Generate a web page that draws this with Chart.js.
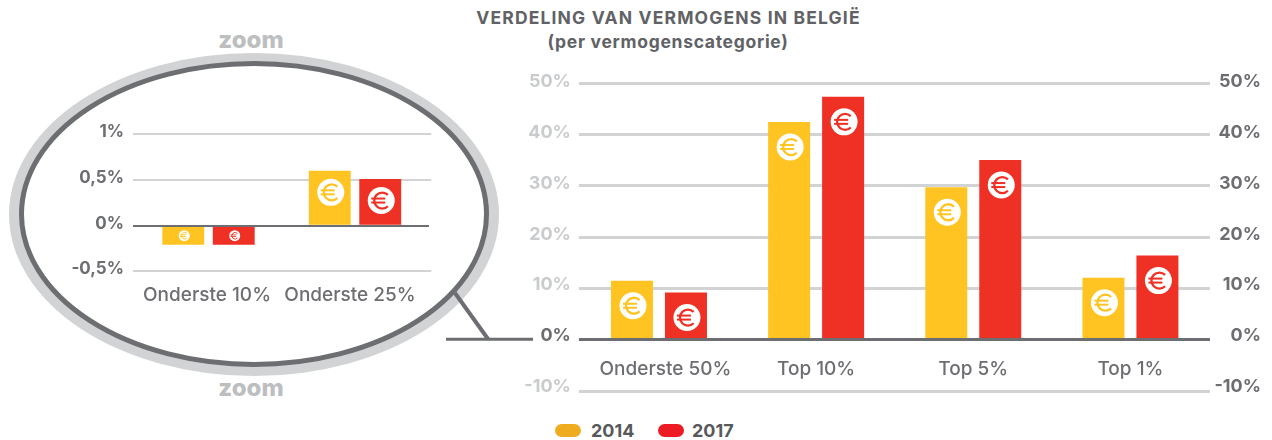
<!DOCTYPE html>
<html lang="nl"><head><meta charset="utf-8">
<title>Verdeling van vermogens in België</title>
<script src="https://cdn.jsdelivr.net/npm/chart.js@4"></script>
<style>
html,body{margin:0;padding:0;background:#fff;overflow:hidden}
#stage{position:relative;width:1272px;height:440px;font-family:Inter,"Open Sans",sans-serif}
#stage>*{position:absolute}
.t{white-space:nowrap;transform:translateX(-50%);font-weight:700;color:#616265;line-height:1}
.z{color:#bcbec0;font-size:24px;font-weight:800}
.pill{width:26px;height:13px;border-radius:7px}
.lt{font-size:18px;font-weight:700;color:#58595b;line-height:1;white-space:nowrap}
</style></head><body>
<div id="stage">
<svg width="1272" height="440" style="left:0;top:0">
<ellipse cx="254" cy="214.5" rx="245" ry="161.5" fill="#d1d3d4"/>
<ellipse cx="254" cy="214" rx="232.5" ry="150.5" fill="#fff" stroke="#6d6e71" stroke-width="5"/>
<path d="M455 293L488 339" stroke="#6d6e71" stroke-width="4" fill="none"/>
<path d="M446 339.3H533" stroke="#6d6e71" stroke-width="3" fill="none"/>
</svg>
<div class="t" style="left:668.5px;top:9px;font-size:17.5px;letter-spacing:1.15px">VERDELING VAN VERMOGENS IN BELGIË</div>
<div class="t" style="left:668px;top:33px;font-size:17.5px;letter-spacing:.7px">(per vermogenscategorie)</div>
<div class="t z" style="left:251px;top:28px">zoom</div>
<div class="t z" style="left:251px;top:376px">zoom</div>
<canvas id="main" width="772" height="350" style="left:500px;top:60px"></canvas>
<canvas id="zoom" width="560" height="200" style="left:40px;top:110px"></canvas>
<div class="pill" id="p0" style="left:555px;top:424px"></div>
<div class="lt" id="l0" style="left:591px;top:422px"></div>
<div class="pill" id="p1" style="left:658px;top:424px"></div>
<div class="lt" id="l1" style="left:692px;top:422px"></div>
</div>
<script>
const seriesNames = ['2014', '2017'];
const mainCategories = ['Onderste 50%', 'Top 10%', 'Top 5%', 'Top 1%'];
const main2014 = [11.5, 42.4, 29.7, 12.1];
const main2017 = [9.2, 47.3, 35, 16.4];
const zoomCategories = ['Onderste 10%', 'Onderste 25%'];
const zoom2014 = [-0.21, 0.6];
const zoom2017 = [-0.21, 0.51];
const barColors = ['#ffc421', '#ef3024'];
const legendColors = ['#efac1f', '#ed1c24'];
const DARK = '#6d6e71', LIGHT = '#d1d3d4';
const FONT = 'Inter, "Open Sans", sans-serif';

seriesNames.forEach((n, i) => {
  document.getElementById('l' + i).textContent = n;
  document.getElementById('p' + i).style.background = legendColors[i];
});

function drawEuro(ctx, x, y, r, color) {
  ctx.save();
  ctx.fillStyle = '#fff';
  ctx.beginPath(); ctx.arc(x, y, r, 0, Math.PI * 2); ctx.fill();
  const k = r / 13.5;
  ctx.strokeStyle = color; ctx.lineWidth = 2.3 * k;
  ctx.beginPath(); ctx.arc(x + k, y, 8 * k, Math.PI * 0.25, Math.PI * 1.75); ctx.stroke();
  ctx.fillStyle = color;
  ctx.fillRect(x - 10 * k, y - 3 * k, 14 * k, 2 * k);
  ctx.fillRect(x - 10 * k, y + 1 * k, 14 * k, 2 * k);
  ctx.restore();
}
const euroIcons = {
  id: 'euroIcons',
  afterDatasetsDraw(chart, args, o) {
    chart.data.datasets.forEach((ds, d) => {
      chart.getDatasetMeta(d).data.forEach(bar => {
        const neg = bar.y > bar.base;
        drawEuro(chart.ctx, bar.x + o.dx, neg ? (bar.y + bar.base) / 2 : bar.y + o.down,
                 neg ? 5.5 : 13.5, ds.backgroundColor);
      });
    });
  }
};
function shiftLabels(fn) {
  return axis => {
    const orig = axis.getLabelItems;
    axis.getLabelItems = function (a) {
      const fresh = !this._labelItems;
      const items = orig.call(this, a);
      if (fresh) items.forEach((it, i) => { it.textOffset += fn(this.ticks[i].value); });
      return items;
    };
  };
}
function nudgeX(dx) {
  return axis => {
    const orig = axis.getLabelItems;
    axis.getLabelItems = function (a) {
      const fresh = !this._labelItems;
      const items = orig.call(this, a);
      if (fresh) items.forEach((it, i) => { it.options.translation[0] += dx[i]; });
      return items;
    };
  };
}
const pct = v => String(v).replace('.', ',') + '%';

function build(id, cats, a, b, cfg) {
  const yAxis = (pos, w, color, gridOn, tl, shift, showLabels, pad, cross) => ({
    position: pos, min: cfg.min, max: cfg.max,
    afterFit: ax => { ax.width = w; },
    afterUpdate: shiftLabels(shift),
    border: { display: false },
    grid: {
      drawOnChartArea: gridOn, drawTicks: tl > 0, tickLength: tl, lineWidth: cfg.lw,
      color: c => c.tick && c.tick.value === 0 ? (gridOn ? DARK : 'rgba(0,0,0,0)') : LIGHT
    },
    ticks: {
      display: showLabels, stepSize: cfg.step, padding: pad, crossAlign: cross, color, callback: pct,
      font: { family: FONT, size: cfg.tickSize, weight: '700' }
    }
  });
  return new Chart(document.getElementById(id), {
    type: 'bar',
    data: {
      labels: cats,
      datasets: [
        { label: seriesNames[0], data: a, backgroundColor: barColors[0] },
        { label: seriesNames[1], data: b, backgroundColor: barColors[1] }
      ]
    },
    options: {
      responsive: false, animation: false,
      layout: { padding: cfg.padding },
      datasets: { bar: { categoryPercentage: cfg.cp, barPercentage: cfg.bp } },
      plugins: { legend: { display: false }, tooltip: { enabled: false }, euroIcons: { dx: 1, down: cfg.down } },
      scales: {
        x: {
          axis: 'x', position: { y: 0 },
          afterUpdate: nudgeX(cfg.xNudge),
          grid: { display: false, drawTicks: false },
          border: { display: true, color: DARK, width: cfg.lw, z: 1 },
          ticks: { padding: cfg.xpad, color: DARK, maxRotation: 0, autoSkip: false,
                   font: { family: FONT, size: cfg.xSize, weight: '500' } }
        },
        y: yAxis('left', cfg.wl, cfg.leftColor, true, cfg.tlL, cfg.shift, true, cfg.pad, 'near'),
        yr: yAxis('right', cfg.wr, DARK, false, cfg.tlR, cfg.shift, cfg.rightLabels, cfg.padR, 'far')
      }
    },
    plugins: [euroIcons]
  });
}

build('main', mainCategories, main2014, main2017, {
  min: -10, max: 50, step: 10, lw: 3, pad: 8, padR: 3, tickSize: 18, xSize: 19, xpad: 18, rightLabels: true,
  padding: { top: 23, bottom: 14, left: 0, right: 11 }, wl: 80.4, wr: 52, tlL: 1.5, tlR: 1,
  cp: 0.687, bp: 0.778, down: 25, xNudge: [6.5, 0, 0, 0],
  leftColor: c => c.tick.value === 0 ? DARK : '#c9cbcd',
  shift: v => -1 - (50 - v) * 4 / 60
});
build('zoom', zoomCategories, zoom2014, zoom2017, {
  min: -0.5, max: 1, step: 0.5, lw: 2, pad: 9, padR: 9, tickSize: 17, xSize: 19, xpad: 58, rightLabels: false,
  padding: { top: 24.3, bottom: 38.7, left: 0, right: 0 }, wl: 95.25, wr: 171.75, tlL: 2.25, tlR: 3,
  cp: 0.689, bp: 0.83, down: 21.5, xNudge: [-1.5, -5],
  leftColor: DARK,
  shift: v => -2
});
</script>
</body></html>
